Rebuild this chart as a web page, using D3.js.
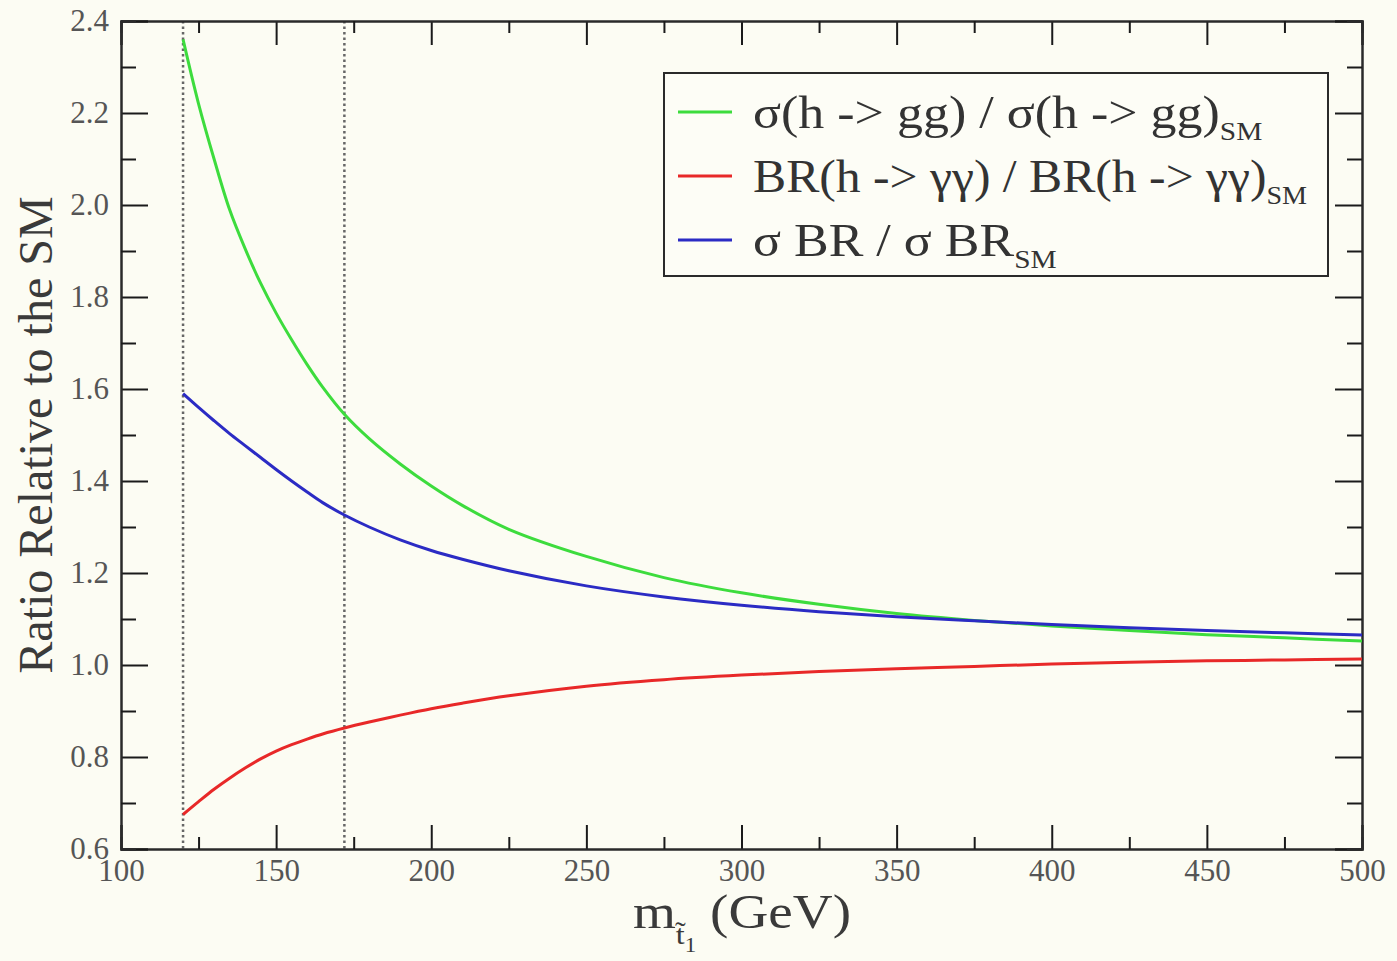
<!DOCTYPE html>
<html>
<head>
<meta charset="utf-8">
<script src="https://cdn.jsdelivr.net/npm/d3@7"></script>
<style>
  body { margin: 0; background: #fcfcf3; }
  svg { display: block; }
  text { font-family: "Liberation Serif", "DejaVu Serif", serif; }
</style>
</head>
<body>
<div id="chart"></div>
<script>
const width = 1397;
const height = 961;
const margin = {top: 21, right: 35, bottom: 112, left: 121};

// stop mass (GeV)
const mass = [120, 125, 130, 135, 140, 145, 150, 155, 160, 165, 172, 180, 190, 200, 210, 225, 250, 275, 300, 325, 350, 375, 400, 425, 450, 475, 500];
// sigma(h->gg)/SM
const ggRatio = [2.36, 2.22, 2.10, 1.99, 1.905, 1.83, 1.765, 1.707, 1.653, 1.604, 1.545, 1.492, 1.437, 1.389, 1.347, 1.295, 1.236, 1.19, 1.157, 1.132, 1.112, 1.097, 1.085, 1.075, 1.066, 1.059, 1.052];
// BR(h->yy)/SM
const brRatio = [0.675, 0.703, 0.73, 0.754, 0.776, 0.796, 0.813, 0.827, 0.839, 0.85, 0.863, 0.876, 0.891, 0.905, 0.917, 0.933, 0.954, 0.968, 0.978, 0.986, 0.992, 0.997, 1.002, 1.006, 1.009, 1.011, 1.013];
// sigma*BR / SM
const prodRatio = [1.59, 1.56, 1.531, 1.503, 1.477, 1.451, 1.425, 1.4, 1.376, 1.353, 1.326, 1.3, 1.272, 1.249, 1.23, 1.205, 1.172, 1.148, 1.13, 1.116, 1.105, 1.096, 1.088, 1.081, 1.075, 1.07, 1.065];

const xMajor = [100, 150, 200, 250, 300, 350, 400, 450, 500];
const xMinor = [125, 175, 225, 275, 325, 375, 425, 475];
const yMajor = [0.6, 0.8, 1.0, 1.2, 1.4, 1.6, 1.8, 2.0, 2.2, 2.4];
const yMinor = [0.7, 0.9, 1.1, 1.3, 1.5, 1.7, 1.9, 2.1, 2.3];
const markers = [120, 172];

const series = [
  {name: "gg", values: ggRatio, color: "#3ddc3d", label: ["σ(h -> gg) / σ(h -> gg)", "SM"]},
  {name: "br", values: brRatio, color: "#e82828", label: ["BR(h -> γγ) / BR(h -> γγ)", "SM"]},
  {name: "prod", values: prodRatio, color: "#2b2bc4", label: ["σ BR / σ BR", "SM"]}
];

const svg = d3.select("#chart").append("svg")
    .attr("width", width)
    .attr("height", height);

svg.append("rect")
    .attr("width", width)
    .attr("height", height)
    .attr("fill", "#fcfcf3");

const x = d3.scaleLinear().domain([100, 500]).range([margin.left, width - margin.right]);
const y = d3.scaleLinear().domain([0.6, 2.4]).range([height - margin.bottom, margin.top]);

// dotted markers
svg.append("g")
  .selectAll("line")
  .data(markers)
  .join("line")
    .attr("x1", d => x(d))
    .attr("x2", d => x(d))
    .attr("y1", y(2.4))
    .attr("y2", y(0.6))
    .attr("stroke", "#666")
    .attr("stroke-width", 2.5)
    .attr("stroke-dasharray", "2.5,3");

function styleAxis(g) {
  g.selectAll(".domain").attr("stroke", "#2a2a2a").attr("stroke-width", 2);
  g.selectAll(".tick line").attr("stroke", "#1a1a1a").attr("stroke-width", 2);
  g.selectAll(".tick text")
      .attr("font-family", "Liberation Serif, serif")
      .attr("font-size", 31)
      .attr("fill", "#555");
}

// bottom
svg.append("g")
    .attr("transform", `translate(0,${y(0.6)})`)
    .call(d3.axisBottom(x).tickValues(xMajor).tickSize(-24).tickPadding(10).tickFormat(d3.format("d")))
    .call(styleAxis);
svg.append("g")
    .attr("transform", `translate(0,${y(0.6)})`)
    .call(d3.axisBottom(x).tickValues(xMinor).tickSize(-12).tickFormat(""))
    .call(styleAxis);
// top
svg.append("g")
    .attr("transform", `translate(0,${y(2.4)})`)
    .call(d3.axisTop(x).tickValues(xMajor).tickSize(-24).tickFormat(""))
    .call(styleAxis);
svg.append("g")
    .attr("transform", `translate(0,${y(2.4)})`)
    .call(d3.axisTop(x).tickValues(xMinor).tickSize(-12).tickFormat(""))
    .call(styleAxis);
// left
svg.append("g")
    .attr("transform", `translate(${x(100)},0)`)
    .call(d3.axisLeft(y).tickValues(yMajor).tickSize(-27).tickPadding(12).tickFormat(d3.format(".1f")))
    .call(styleAxis);
svg.append("g")
    .attr("transform", `translate(${x(100)},0)`)
    .call(d3.axisLeft(y).tickValues(yMinor).tickSize(-15).tickFormat(""))
    .call(styleAxis);
// right
svg.append("g")
    .attr("transform", `translate(${x(500)},0)`)
    .call(d3.axisRight(y).tickValues(yMajor).tickSize(-27).tickFormat(""))
    .call(styleAxis);
svg.append("g")
    .attr("transform", `translate(${x(500)},0)`)
    .call(d3.axisRight(y).tickValues(yMinor).tickSize(-15).tickFormat(""))
    .call(styleAxis);

// curves
const line = d3.line()
    .x((d, i) => x(mass[i]))
    .y(d => y(d))
    .curve(d3.curveCatmullRom.alpha(0.5));

svg.append("g")
  .selectAll("path")
  .data(series)
  .join("path")
    .attr("d", d => line(d.values))
    .attr("fill", "none")
    .attr("stroke", d => d.color)
    .attr("stroke-width", 3);

// legend
const legend = svg.append("g").attr("transform", "translate(664,73)");
legend.append("rect")
    .attr("width", 664)
    .attr("height", 203)
    .attr("fill", "#fdfdf6")
    .attr("stroke", "#2a2a2a")
    .attr("stroke-width", 2);

const rows = legend.selectAll("g.row")
  .data(series)
  .join("g")
    .attr("class", "row")
    .attr("transform", (d, i) => `translate(0,${39 + i * 64})`);

rows.append("line")
    .attr("x1", 14)
    .attr("x2", 68)
    .attr("stroke", d => d.color)
    .attr("stroke-width", 3);

// the source text looks stretched sideways; the γγ row is squeezed a bit to stay in the box
const label = rows.append("text")
    .attr("transform", d => `translate(89,16) scale(${d.name === "br" ? 1.08 : 1.13},1)`)
    .attr("font-size", 46)
    .attr("fill", "#333");
label.append("tspan").text(d => d.label[0]);
label.append("tspan")
    .attr("dy", 12)
    .attr("font-size", 26)
    .text(d => d.label[1]);

// axis titles
svg.append("text")
    .attr("transform", "translate(52,435) rotate(-90)")
    .attr("text-anchor", "middle")
    .attr("font-size", 48)
    .attr("fill", "#3a3a3a")
    .text("Ratio Relative to the SM");

const xt = svg.append("text")
    .attr("transform", "translate(742,928) scale(1.15,1)")
    .attr("text-anchor", "middle")
    .attr("font-size", 48)
    .attr("fill", "#3a3a3a");
xt.append("tspan").text("m");
xt.append("tspan").attr("dy", 16).attr("font-size", 28).text("t\u0303");
xt.append("tspan").attr("dy", 8).attr("font-size", 20).text("1");
xt.append("tspan").attr("dy", -24).text(" (GeV)");
</script>
</body>
</html>
